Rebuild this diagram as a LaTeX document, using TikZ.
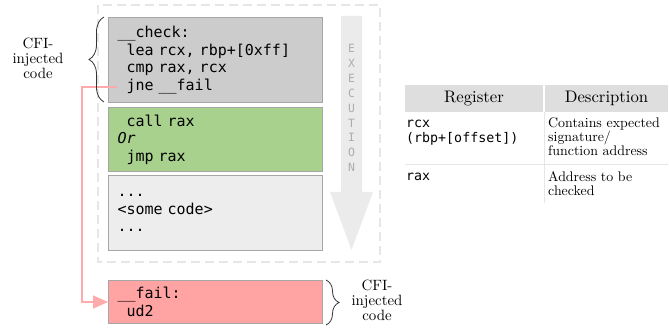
\documentclass[tikz,border=0pt]{standalone}
\usepackage{fontspec}
\setmainfont{lmroman10}[Extension=.otf, UprightFont=*-regular, ItalicFont=*-italic, BoldFont=*-bold]
\usetikzlibrary{arrows.meta,decorations.pathreplacing}
\newfontfamily\codefont{DejaVu Sans Mono}
\definecolor{chkgray}{HTML}{CCCCCC}
\definecolor{callgreen}{HTML}{A9D18E}
\definecolor{restgray}{HTML}{EDEDED}
\definecolor{failred}{HTML}{FFA3A3}
\definecolor{boxline}{HTML}{A6A6A6}
\definecolor{exgray}{HTML}{EBEBEB}
\definecolor{jmpred}{HTML}{FFABAB}
\definecolor{hdrgray}{HTML}{DEDEDE}
\definecolor{rulegray}{HTML}{E6E6E6}
\newcommand{\monospaces}{\fontdimen2\font=\fontcharwd\font`\M\fontdimen3\font=0pt\fontdimen4\font=0pt\relax}
\newcommand{\codesize}{\codefont\fontsize{15}{17.4}\selectfont\monospaces}
\newcommand{\regsize}{\codefont\fontsize{13.3}{15}\selectfont\monospaces}
\newcommand{\ind}{\phantom{M}}
\tikzset{
    codebox/.style = {draw=boxline, line width=1pt, minimum width=214pt, inner xsep=9pt,
        text width=196pt, align=left, anchor=north west, font=\codesize},
    cfitext/.style = {align=center, font=\fontsize{14.9}{15}\selectfont},
    hdrcell/.style = {fill=hdrgray, minimum height=27pt, font=\fontsize{16.7}{18}\selectfont},
    regtext/.style = {anchor=north west, inner sep=0pt, align=left, font=\regsize},
    desctext/.style = {anchor=north west, inner sep=0pt, align=left, font=\fontsize{13.9}{14}\selectfont},
}
\begin{document}
\begin{tikzpicture}[x=1pt, y=-1pt]
    \useasboundingbox (0,0) rectangle (669,331);
    \draw[rulegray, line width=1.5pt, dash pattern=on 9pt off 5pt] (98,5) rectangle (380,262);
    \fill[exgray] (341,16) -- (362,16) -- (362,192) -- (373,192) -- (351.5,250) -- (330,192) -- (341,192) -- cycle;
    \node[text=black!32, align=center, font=\codefont\fontsize{11.4}{14.9}\selectfont] (exec) at (351.5,108)
        {E\\X\\E\\C\\U\\T\\I\\O\\N};

    \node[codebox, fill=chkgray, minimum height=85pt] (check) at (108,17)
        {\_\_check:\\\ind lea rcx, rbp+[0xff]\\\ind cmp rax, rcx\\\ind jne \_\_fail};
    \node[codebox, fill=callgreen, minimum height=64pt] (call) at (108,107)
        {\ind call rax\\\textit{Or}\\\ind jmp rax};
    \node[codebox, fill=restgray, minimum height=75pt] (rest) at (108,175)
        {...\\<some code>\\...};
    \node[codebox, fill=failred, minimum height=43pt] (fail) at (108,280)
        {\_\_fail:\\\ind ud2};

    \coordinate (jne) at (117,87);
    \draw[jmpred, line width=1.5pt, -{Triangle[length=15pt, width=13pt]}]
        (jne) -- (82,87) |- (fail.west);

    \draw[black!80, line width=0.8pt, decorate, decoration={brace, amplitude=15pt}]
        (104,102) -- (104,17);
    \node[cfitext] (cfil) at (38,58) {CFI-\\injected\\code};
    \draw[black!80, line width=0.8pt, decorate, decoration={brace, amplitude=13pt}]
        (326,280) -- (326,325);
    \node[cfitext] (cfir) at (377,300) {CFI-\\injected\\code};

    \node[hdrcell, minimum width=138pt] (reghdr) at (474,98.5) {Register};
    \node[hdrcell, minimum width=123pt] (deschdr) at (606.5,98.5) {Description};
    \draw[rulegray, line width=1pt] (405,165) -- (668,165);
    \draw[rulegray, line width=1pt] (544,112) -- (544,203);
    \node[regtext] (rcx) at (406,119.5) {rcx\\(rbp+[offset])};
    \node[desctext] (rcxdesc) at (548,118) {Contains expected\\signature/\\function address};
    \node[regtext] (rax) at (406,172.5) {rax};
    \node[desctext] (raxdesc) at (548,171) {Address to be\\checked};
\end{tikzpicture}
\end{document}
